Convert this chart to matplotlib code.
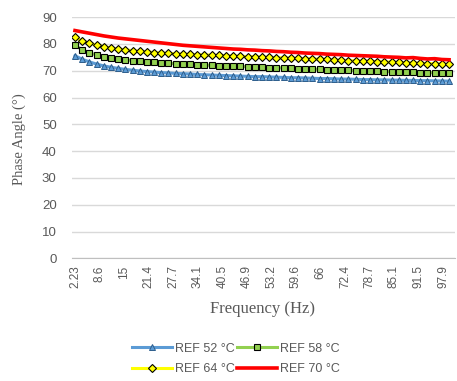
import matplotlib
matplotlib.use("Agg")
import matplotlib.pyplot as plt

# frequency of each measured point (Hz)
freq = [2.23, 4.10, 5.97, 7.84, 9.71, 11.58, 13.45, 15.32, 17.19, 19.06,
        20.93, 22.80, 24.67, 26.54, 28.41, 30.28, 32.15, 34.02, 35.89, 37.76,
        39.63, 41.50, 43.37, 45.24, 47.11, 48.98, 50.85, 52.72, 54.59, 56.46,
        58.33, 60.20, 62.07, 63.94, 65.81, 67.68, 69.55, 71.42, 73.29, 75.16,
        77.03, 78.90, 80.77, 82.64, 84.51, 86.38, 88.25, 90.12, 91.99, 93.86,
        95.73, 97.60, 99.47]

ref52 = [75.6, 74.3, 73.3, 72.5, 71.8, 71.3, 70.9, 70.5, 70.2, 69.9,
         69.7, 69.5, 69.3, 69.2, 69.0, 68.9, 68.8, 68.6, 68.5, 68.4,
         68.3, 68.2, 68.1, 68.0, 67.9, 67.8, 67.8, 67.7, 67.6, 67.5,
         67.4, 67.4, 67.3, 67.2, 67.1, 67.1, 67.0, 66.9, 66.9, 66.8,
         66.7, 66.7, 66.6, 66.6, 66.5, 66.5, 66.4, 66.4, 66.3, 66.3,
         66.2, 66.2, 66.1]
ref58 = [79.6, 77.8, 76.7, 75.9, 75.3, 74.8, 74.4, 74.1, 73.8, 73.5,
         73.3, 73.1, 72.9, 72.8, 72.6, 72.5, 72.4, 72.2, 72.1, 72.0,
         71.9, 71.8, 71.7, 71.6, 71.5, 71.4, 71.3, 71.2, 71.1, 71.0,
         70.9, 70.8, 70.7, 70.6, 70.5, 70.4, 70.3, 70.2, 70.1, 70.0,
         69.9, 69.8, 69.8, 69.7, 69.6, 69.5, 69.5, 69.4, 69.3, 69.3,
         69.2, 69.1, 69.1]
ref64 = [82.5, 81.1, 80.3, 79.6, 79.0, 78.5, 78.1, 77.8, 77.5, 77.2,
         77.0, 76.8, 76.6, 76.5, 76.3, 76.2, 76.1, 76.0, 75.9, 75.8,
         75.7, 75.6, 75.5, 75.4, 75.3, 75.2, 75.1, 75.0, 74.9, 74.8,
         74.7, 74.6, 74.5, 74.4, 74.3, 74.2, 74.0, 73.9, 73.8, 73.7,
         73.6, 73.5, 73.4, 73.3, 73.2, 73.1, 73.0, 72.9, 72.8, 72.7,
         72.6, 72.5, 72.4]
ref70 = [85.0, 84.5, 84.0, 83.5, 83.0, 82.6, 82.2, 81.9, 81.6, 81.3,
         81.0, 80.7, 80.4, 80.1, 79.8, 79.5, 79.3, 79.1, 78.9, 78.7,
         78.5, 78.3, 78.1, 78.0, 77.8, 77.7, 77.5, 77.4, 77.2, 77.1,
         76.9, 76.8, 76.6, 76.5, 76.4, 76.2, 76.1, 76.0, 75.8, 75.7,
         75.6, 75.5, 75.4, 75.2, 75.1, 75.0, 74.8, 74.9, 74.6, 74.4,
         74.5, 74.2, 74.1]

tick_freq = [2.23, 8.6, 15, 21.4, 27.7, 34.1, 40.5, 46.9, 53.2, 59.6,
             66, 72.4, 78.7, 85.1, 91.5, 97.9]
tick_labels = ["2.23", "8.6", "15", "21.4", "27.7", "34.1", "40.5", "46.9",
               "53.2", "59.6", "66", "72.4", "78.7", "85.1", "91.5", "97.9"]

grey = "#595959"
sans = "Liberation Sans"
serif = "Liberation Serif"

fig = plt.figure(figsize=(4.57, 3.81), dpi=100)
ax = fig.add_axes([0.1575, 0.322, 0.838, 0.633])

l52, = ax.plot(freq, ref52, color="#5B9BD5", lw=2.2, marker="^", ms=5,
               mfc="#5B9BD5", mec="#2E5E8C", mew=0.7, label="REF 52 °C")
l58, = ax.plot(freq, ref58, color="#92D050", lw=2.2, marker="s", ms=4.6,
               mfc="#92D050", mec="black", mew=0.8, label="REF 58 °C")
l64, = ax.plot(freq, ref64, color="#FFFF00", lw=2.2, marker="D", ms=3.8,
               mfc="#FFFF00", mec="black", mew=0.8, label="REF 64 °C")
l70, = ax.plot(freq, ref70, color="#FF0000", lw=2.6, label="REF 70 °C")

ax.set_xlim(1.45, 101.0)
ax.set_ylim(0, 90)
ax.set_yticks(range(0, 91, 10))
ax.set_xticks(tick_freq)
ax.set_xticklabels(tick_labels, rotation=90, fontsize=8.5, color=grey,
                   family=sans)
for lab in ax.get_yticklabels():
    lab.set_fontsize(9.5)
    lab.set_color(grey)
    lab.set_family(sans)
ax.tick_params(axis="both", length=0)
ax.tick_params(axis="y", pad=11)
ax.tick_params(axis="x", pad=5)

ax.grid(axis="y", color="#D9D9D9", lw=1)
ax.set_axisbelow(True)
for s in ["top", "right", "left"]:
    ax.spines[s].set_visible(False)
ax.spines["bottom"].set_color("#BFBFBF")

fig.text(263 / 457, 1 - 309 / 381, "Frequency (Hz)", ha="center", va="center",
         fontsize=12, color=grey, family=serif)
fig.text(19 / 457, 1 - 139 / 381, "Phase Angle (°)", ha="center", va="center",
         rotation=90, fontsize=10.5, color=grey, family=serif)

# row-wise order like the spreadsheet legend: 52, 58 / 64, 70
leg = fig.legend([l52, l64, l58, l70],
                 ["REF 52 °C", "REF 64 °C", "REF 58 °C", "REF 70 °C"],
                 loc="center", bbox_to_anchor=(236 / 457, 1 - 359 / 381),
                 ncol=2, frameon=False, handlelength=3.2,
                 handletextpad=0.2, columnspacing=0.2, labelspacing=0.7,
                 borderaxespad=0, prop={"family": sans, "size": 9})
for t in leg.get_texts():
    t.set_color(grey)

fig.savefig("out.png", dpi=100)
